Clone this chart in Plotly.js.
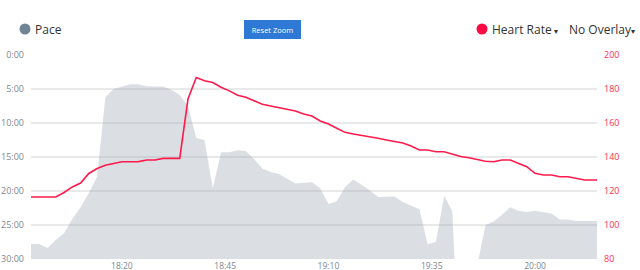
<!DOCTYPE html>
<html>
<head>
<meta charset="utf-8">
<script src="https://cdn.plot.ly/plotly-3.0.1.min.js"></script>
<style>html,body{margin:0;padding:0;background:#fff}#chart{width:640px;height:270px}</style>
</head>
<body>
<div id="chart"></div>
<script>
// ---- data ----
const day = '2024-06-01 ';
const paceTimes = ['17:58','18:00','18:02','18:04','18:06','18:08','18:10','18:12','18:14','18:16','18:18','18:20','18:22','18:24','18:26','18:28','18:30','18:32','18:34','18:36','18:38','18:40','18:42','18:44','18:46','18:48','18:50','18:52','18:54','18:56','18:58','19:00','19:02','19:04','19:06','19:08','19:10','19:12','19:14','19:16','19:18','19:20','19:22','19:24','19:26','19:28','19:30','19:32','19:34','19:36','19:38','19:40','19:40:30','19:42','19:44','19:46:20','19:48','19:50','19:52','19:54','19:56','19:58','20:00','20:02','20:04','20:06','20:08','20:10','20:12','20:14','20:15'];
const paceMin = [27.8,27.8,28.4,27.2,26.2,24.1,22.4,20.3,17.9,6.2,5.0,4.6,4.3,4.3,4.6,4.65,4.65,5.1,5.9,7.5,12.2,12.5,19.6,14.3,14.3,14.0,14.1,15.3,16.7,17.2,17.5,18.2,18.9,18.8,18.7,19.6,21.9,21.5,19.4,18.3,19.1,19.9,20.9,20.8,20.8,21.6,22.1,22.7,27.8,27.5,20.7,23.0,30,30,30,30,25.0,24.5,23.5,22.4,22.9,23.1,22.9,23.1,23.3,24.2,24.2,24.4,24.4,24.4,24.4];
const hrTimes = ['17:58','18:00','18:02','18:04','18:06','18:08','18:10','18:12','18:14','18:16','18:18','18:20','18:22','18:24','18:26','18:28','18:30','18:32','18:34','18:36','18:38','18:40','18:42','18:44','18:46','18:48','18:50','18:52','18:54','18:56','18:58','19:00','19:02','19:04','19:06','19:08','19:10','19:12','19:14','19:16','19:18','19:20','19:22','19:24','19:26','19:28','19:30','19:32','19:34','19:36','19:38','19:40','19:42','19:44','19:46','19:48','19:50','19:52','19:54','19:56','19:58','20:00','20:02','20:04','20:06','20:08','20:10','20:12','20:14','20:15'];
const heartRate = [116.5,116.5,116.5,116.5,119.1,122.4,124.7,130.3,133.2,135.1,136.2,137.2,137.2,137.3,138.2,138.2,139.2,139.2,139.2,174.1,186.8,184.9,183.8,181.0,178.9,176.3,175.1,173.1,171.0,170.0,169.0,168.2,167.1,165.3,164.1,161.2,159.4,156.9,154.5,153.5,152.8,151.9,151.0,150.0,149.2,148.2,146.5,144.1,144.1,143.1,143.1,141.6,140.3,139.6,138.6,137.5,137.2,138.2,138.2,136.3,134.3,130.4,129.4,129.4,128.4,128.4,127.5,126.5,126.5,126.5];
const paceTickVals = [0,5,10,15,20,25,30];
const paceTickText = ['0:00','5:00','10:00','15:00','20:00','25:00','30:00'];
const hrTickVals = [80,100,120,140,160,180,200];

const px = paceTimes.map(t => day + t);
const hx = hrTimes.map(t => day + t);
const xStart = px[0], xEnd = px[px.length - 1];

const traces = [
  {x: [xStart, xEnd], y: [30, 30], type: 'scatter', mode: 'lines', line: {width: 0}, hoverinfo: 'skip', showlegend: false},
  {x: px, y: paceMin, type: 'scatter', mode: 'lines', line: {width: 0}, fill: 'tonexty', fillcolor: 'rgba(160,172,184,0.38)', hoverinfo: 'skip', showlegend: false},
  {x: hx, y: heartRate, yaxis: 'y2', type: 'scatter', mode: 'lines', line: {color: '#ff1a4b', width: 1.6}, hoverinfo: 'skip', showlegend: false}
];

const W = 640, H = 270, L = 31, R = 43, T = 55, B = 11;
const pw = W - L - R, ph = H - T - B;
const fx = p => (p - L) / pw;
const fy = p => (H - B - p) / ph;

const font = '"Open Sans", "Noto Sans", sans-serif';

const layout = {
  width: W, height: H,
  margin: {l: L, r: R, t: T, b: B, pad: 0},
  paper_bgcolor: '#fff', plot_bgcolor: '#fff',
  showlegend: false,
  hovermode: false,
  xaxis: {
    type: 'date', range: [xStart, xEnd],
    tick0: day + '18:20', dtick: 25 * 60 * 1000, tickformat: '%H:%M',
    showgrid: false, zeroline: false, showline: false, ticks: '',
    tickfont: {family: font, size: 8.5, color: '#7d8792'}
  },
  yaxis: {
    range: [30, 0], tickvals: paceTickVals, ticktext: paceTickText,
    showgrid: true, gridcolor: '#e9e9e9', gridwidth: 1.5,
    zeroline: false, showline: false, ticks: '', ticklabelstandoff: 6,
    tickfont: {family: font, size: 9, color: '#7d8792'}
  },
  yaxis2: {
    overlaying: 'y', side: 'right', range: [80, 200], tickvals: hrTickVals,
    showgrid: false, zeroline: false, showline: false, ticks: '', ticklabelstandoff: 6,
    tickfont: {family: font, size: 9, color: '#ff2d55'}
  },
  shapes: [
    {type: 'circle', xref: 'paper', yref: 'paper', xsizemode: 'pixel', ysizemode: 'pixel',
     xanchor: fx(25), yanchor: fy(29), x0: -5.5, x1: 5.5, y0: -5.5, y1: 5.5,
     fillcolor: '#6f8495', line: {width: 0}},
    {type: 'circle', xref: 'paper', yref: 'paper', xsizemode: 'pixel', ysizemode: 'pixel',
     xanchor: fx(482), yanchor: fy(29), x0: -5.5, x1: 5.5, y0: -5.5, y1: 5.5,
     fillcolor: '#ff0a45', line: {width: 0}}
  ],
  annotations: [
    {xref: 'paper', yref: 'paper', x: fx(33), y: fy(29), xanchor: 'left', yanchor: 'middle', showarrow: false,
     text: 'Pace', font: {family: font, size: 12, color: '#333'}},
    {xref: 'paper', yref: 'paper', x: fx(272), y: fy(29), xanchor: 'center', yanchor: 'middle', showarrow: false,
     text: 'Reset Zoom', bgcolor: '#2d79d5', bordercolor: '#2d79d5', borderwidth: 1, borderpad: 3.5,
     width: 48, font: {family: font, size: 7.5, color: '#fff'}},
    {xref: 'paper', yref: 'paper', x: fx(490), y: fy(29), xanchor: 'left', yanchor: 'middle', showarrow: false,
     text: 'Heart Rate<span style="font-size:8px"> ▾</span>', font: {family: font, size: 12, color: '#333'}},
    {xref: 'paper', yref: 'paper', x: fx(567), y: fy(29), xanchor: 'left', yanchor: 'middle', showarrow: false,
     text: 'No Overlay<span style="font-size:8px">▾</span>', font: {family: font, size: 12, color: '#333'}}
  ]
};

Plotly.newPlot('chart', traces, layout, {displayModeBar: false, staticPlot: true});
</script>
</body>
</html>
